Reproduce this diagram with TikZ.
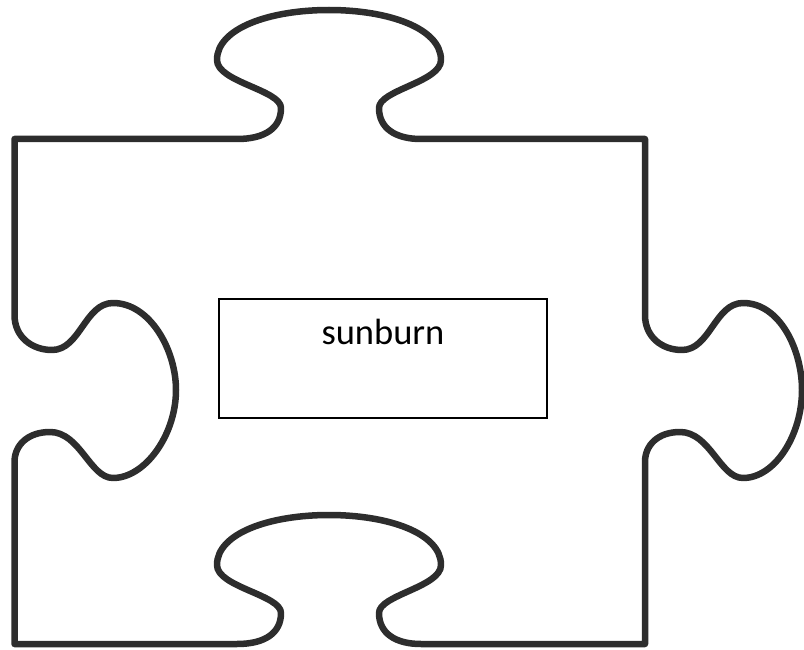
\documentclass[tikz,border=0pt]{standalone}
\usepackage{fontspec}
\setmainfont{Carlito}
\definecolor{puzzlegray}{RGB}{45,45,45}
\begin{document}
\begin{tikzpicture}[x=1pt,y=-1pt,
  outline/.style={draw=puzzlegray, line width=6.5pt, line join=round},
  textbox/.style={draw=black, line width=2pt, minimum width=328pt, minimum height=119pt, inner sep=0pt},
  boxlabel/.style={anchor=base, font=\fontsize{36.5}{44}\selectfont, inner sep=0pt}]
\useasboundingbox (0,0) rectangle (804,650);
% puzzle piece outline
\path[outline]
  (14.5,139) -- (237,139)
  .. controls (265,139) and (281,128) .. (281,108)
  .. controls (281,90) and (217,82) .. (217,60)
  .. controls (217,28) and (270,10) .. (329,10)
  .. controls (388,10) and (441,28) .. (441,60)
  .. controls (441,82) and (379,90) .. (379,108)
  .. controls (379,128) and (395,139) .. (421,139)
  -- (645,139) -- (645,315)
  .. controls (645,337) and (662,350) .. (682,350)
  .. controls (710,350) and (715,303) .. (743,303)
  .. controls (780,303) and (802,350) .. (802,390)
  .. controls (802,435) and (775,478) .. (743,478)
  .. controls (720,478) and (710,432) .. (680,432)
  .. controls (658,432) and (645,445) .. (645,462)
  -- (645,644) -- (421,644)
  .. controls (395,644) and (379,633) .. (379,613)
  .. controls (379,595) and (441,587) .. (441,565)
  .. controls (441,533) and (388,515) .. (329,515)
  .. controls (270,515) and (217,533) .. (217,565)
  .. controls (217,587) and (281,595) .. (281,613)
  .. controls (281,633) and (265,644) .. (237,644)
  -- (14.5,644) -- (14.5,462)
  .. controls (14.5,445) and (28,432) .. (50,432)
  .. controls (80,432) and (90,478) .. (113,478)
  .. controls (145,478) and (176,435) .. (176,390)
  .. controls (176,350) and (150,303) .. (113,303)
  .. controls (85,303) and (80,350) .. (52,350)
  .. controls (32,350) and (14.5,337) .. (14.5,315)
  -- cycle;
% text box
\node[textbox] (box) at (383,358.5) {};
\node[boxlabel] (label) at (383,344) {sunburn};
\end{tikzpicture}
\end{document}
